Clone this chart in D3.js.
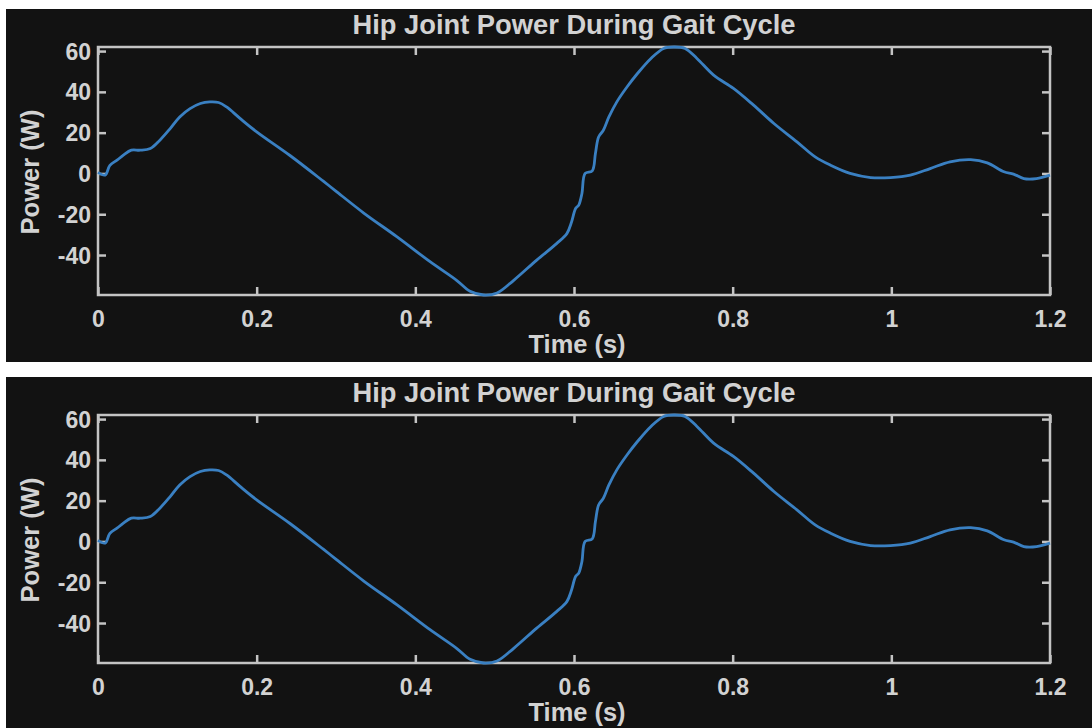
<!DOCTYPE html>
<meta charset="utf-8">
<head>
    <meta charset="utf-8">
    <script src="https://d3js.org/d3.v7.min.js"></script>
    <style>
        body { margin: 0; background: #ffffff; }
        svg { display: block; }
        text { font-family: "Liberation Sans", Arial, sans-serif; font-weight: bold; fill: #d2d2d2; }
    </style>
</head>
<body>
    <svg width="1092" height="728"></svg>

    <script>
        // hip power
        var timeS = [0, 0.009, 0.015, 0.024, 0.032, 0.042, 0.053, 0.066, 0.078, 0.091, 0.103, 0.116, 0.129, 0.141,
            0.152, 0.162, 0.179, 0.2, 0.242, 0.284, 0.299, 0.335, 0.377, 0.419, 0.452, 0.469, 0.486, 0.503,
            0.524, 0.553, 0.578, 0.591, 0.597, 0.602, 0.606, 0.610, 0.614, 0.623, 0.627, 0.631, 0.637, 0.644,
            0.654, 0.667, 0.680, 0.697, 0.713, 0.726, 0.740, 0.755, 0.776, 0.801, 0.826, 0.852, 0.881, 0.904,
            0.923, 0.948, 0.974, 0.999, 1.024, 1.049, 1.074, 1.100, 1.121, 1.142, 1.154, 1.167, 1.183, 1.2];
        var powerW = [0.5, -0.8, 4, 6.5, 9, 11.4, 11.4, 12.2, 16.3, 22, 27.7, 31.8, 34.3, 35.1,
            34.8, 32.6, 27, 20.4, 8.8, -3.8, -8.4, -19.4, -31.1, -43.4, -52.4, -57.8, -59.6, -58.6,
            -52.4, -42.5, -34.4, -29.5, -23.7, -17.2, -15.5, -9.8, 0, 1.3, 9.8, 17.9, 21.2, 27.7,
            35.1, 42.5, 49, 56.4, 61.3, 62, 61.3, 56.4, 48.2, 41.7, 33.6, 24.5, 15.5, 8.1,
            4.1, 0, -2, -2, -0.8, 2.4, 5.7, 6.8, 5.2, 0.8, -0.3, -2.5, -2.5, -0.8];
        var xTicks = [0, 0.2, 0.4, 0.6, 0.8, 1, 1.2];
        var yTicks = [-40, -20, 0, 20, 40, 60];
        var panelTops = [9, 377];

        var data = timeS.map(function (t, i) { return { t: t, p: powerW[i] }; });

        var svg = d3.select("svg");
        // plot box (panel 1 coords)
        var boxL = 98, boxR = 1050, boxT = 47, boxB = 295;
        var axisColor = "#c4c4c4";

        var x = d3.scaleLinear().domain([0, 1.2]).range([boxL, boxR]);
        var y = d3.scaleLinear().domain([-59.6, 62]).range([boxB, boxT]);

        function drawPanel(bgTop) {
            var off = bgTop - 9;
            var g = svg.append("g").attr("transform", "translate(0," + off + ")");

            g.append("rect")
                .attr("x", 6).attr("y", 9)
                .attr("width", 1086).attr("height", 353)
                .attr("fill", "#121212");

            // x axis (ticks inward) + mirrored top
            var xAxis = g.append("g")
                .attr("transform", "translate(0," + boxB + ")")
                .call(d3.axisBottom(x).tickValues(xTicks).tickSize(-8).tickPadding(18)
                    .tickFormat(function (d) { return String(d); }));
            var xTop = g.append("g")
                .attr("transform", "translate(0," + boxT + ")")
                .call(d3.axisTop(x).tickValues(xTicks).tickSize(-8).tickFormat(""));

            // plain hyphen for negatives, like the original
            var yAxis = g.append("g")
                .attr("transform", "translate(" + boxL + ",0)")
                .call(d3.axisLeft(y).tickValues(yTicks).tickSize(-8).tickPadding(7)
                    .tickFormat(function (d) { return String(d); }));
            var yRight = g.append("g")
                .attr("transform", "translate(" + boxR + ",0)")
                .call(d3.axisRight(y).tickValues(yTicks).tickSize(-8).tickFormat(""));

            [xAxis, xTop, yAxis, yRight].forEach(function (a) {
                a.select(".domain").remove();
                a.selectAll("line").attr("stroke", axisColor).attr("stroke-width", 2.5);
                a.selectAll("text").style("font-size", "23px").attr("fill", "#d2d2d2");
            });
            xAxis.selectAll("text").attr("dy", "0.6em");
            yAxis.selectAll("text").attr("dy", "0.35em");

            // box
            g.append("rect")
                .attr("x", boxL).attr("y", boxT)
                .attr("width", boxR - boxL).attr("height", boxB - boxT)
                .attr("fill", "none")
                .attr("stroke", axisColor)
                .attr("stroke-width", 2.5);

            // title
            g.append("text")
                .attr("x", 574).attr("y", 34)
                .attr("text-anchor", "middle")
                .attr("textLength", 443)
                .attr("lengthAdjust", "spacingAndGlyphs")
                .style("font-size", "27px")
                .text("Hip Joint Power During Gait Cycle");

            //X axis label
            g.append("text")
                .attr("x", 577).attr("y", 353)
                .attr("text-anchor", "middle")
                .attr("textLength", 97)
                .attr("lengthAdjust", "spacingAndGlyphs")
                .style("font-size", "25px")
                .text("Time (s)");

            //Y axis label
            g.append("text")
                .attr("transform", "translate(39,172) rotate(-90)")
                .attr("text-anchor", "middle")
                .attr("textLength", 125)
                .attr("lengthAdjust", "spacingAndGlyphs")
                .style("font-size", "25px")
                .text("Power (W)");

            // curve
            g.append("path")
                .datum(data)
                .attr("fill", "none")
                .attr("stroke", "#3a80c2")
                .attr("stroke-width", 2.8)
                .attr("stroke-linejoin", "round")
                .attr("d", d3.line()
                    .x(function (d) { return x(d.t); })
                    .y(function (d) { return y(d.p); })
                    .curve(d3.curveCatmullRom.alpha(0.5)));
        }

        panelTops.forEach(drawPanel);
    </script>
</body>
